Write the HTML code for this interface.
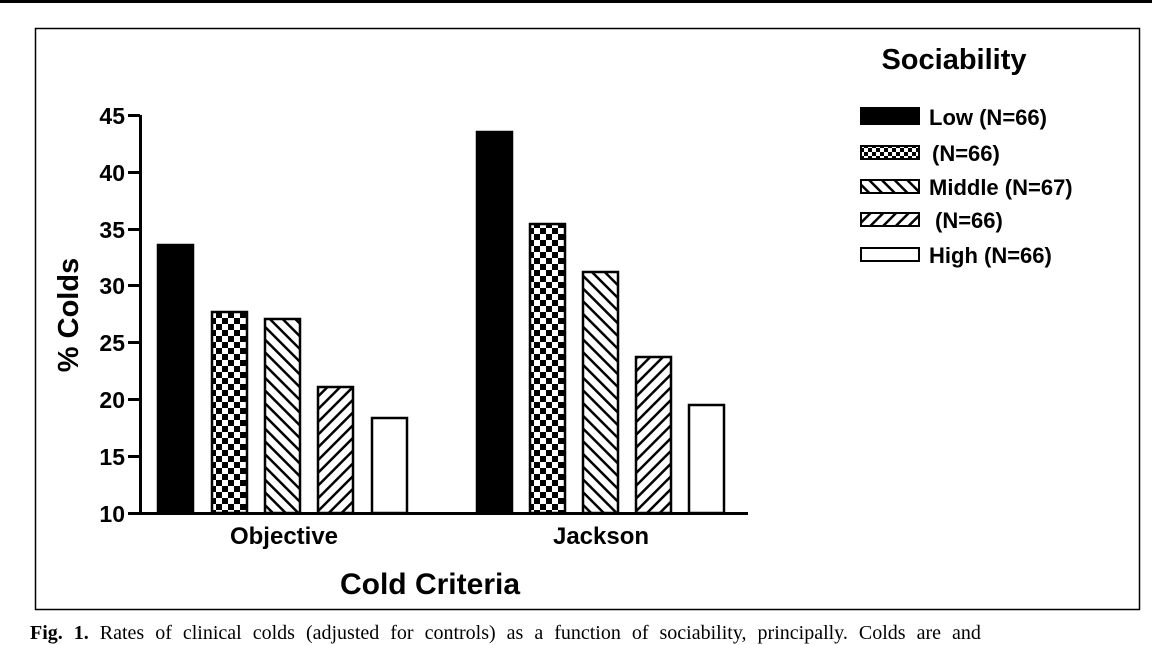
<!DOCTYPE html>
<html><head><meta charset="utf-8"><style>
body{margin:0;width:1152px;height:644px;background:#fff;overflow:hidden;position:relative}
svg{position:absolute;left:0;top:0}
.cap{position:absolute;left:30px;top:622px;font-family:"Liberation Serif",serif;font-size:20px;white-space:nowrap;color:#000;word-spacing:6px}
</style></head><body>
<svg width="1152" height="644" xmlns="http://www.w3.org/2000/svg" font-family="Liberation Sans, Arial, sans-serif" font-weight="bold">
<defs>
<pattern id="chk" width="12" height="12" patternUnits="userSpaceOnUse">
<rect width="12" height="12" fill="#fff"/><rect width="6" height="6" fill="#000"/><rect x="6" y="6" width="6" height="6" fill="#000"/>
</pattern>
<pattern id="bs" width="9" height="9" patternUnits="userSpaceOnUse" patternTransform="rotate(-45)">
<rect width="9" height="9" fill="#fff"/><rect width="2.5" height="9" fill="#000"/>
</pattern>
<pattern id="fs" width="9" height="9" patternUnits="userSpaceOnUse" patternTransform="rotate(45)">
<rect width="9" height="9" fill="#fff"/><rect width="2.5" height="9" fill="#000"/>
</pattern>
<pattern id="chks" width="8" height="8" patternUnits="userSpaceOnUse">
<rect width="8" height="8" fill="#fff"/><rect width="4" height="4" fill="#000"/><rect x="4" y="4" width="4" height="4" fill="#000"/>
</pattern>
</defs>
<rect x="0" y="0" width="1152" height="3" fill="#000"/>
<rect x="35.5" y="28.5" width="1104" height="581" fill="none" stroke="#000" stroke-width="1.5"/>
<rect x="139" y="115" width="3" height="400" fill="#000"/>
<rect x="139" y="512" width="609" height="3" fill="#000"/>
<g fill="#000">
<rect x="128" y="114" width="12" height="3"/><rect x="128" y="171" width="12" height="3"/><rect x="128" y="228" width="12" height="3"/><rect x="128" y="284" width="12" height="3"/><rect x="128" y="341" width="12" height="3"/><rect x="128" y="398" width="12" height="3"/><rect x="128" y="455" width="12" height="3"/><rect x="128" y="512" width="12" height="3"/>
</g>
<g font-size="23" text-anchor="end">
<text x="125" y="124">45</text><text x="125" y="181">40</text><text x="125" y="238">35</text><text x="125" y="294">30</text><text x="125" y="351">25</text><text x="125" y="408">20</text><text x="125" y="465">15</text><text x="125" y="522">10</text>
</g>
<text transform="translate(78,315) rotate(-90)" font-size="29" text-anchor="middle">% Colds</text>
<text x="284" y="544" font-size="24" text-anchor="middle">Objective</text>
<text x="601" y="544" font-size="24" text-anchor="middle">Jackson</text>
<text x="430" y="594" font-size="30" text-anchor="middle">Cold Criteria</text>
<g stroke="#000" stroke-width="2.5">
<rect x="158" y="245" width="35" height="268" fill="#000"/>
<rect x="212" y="312" width="35" height="201" fill="url(#chk)"/>
<rect x="265" y="319" width="35" height="194" fill="url(#bs)"/>
<rect x="318" y="387" width="35" height="126" fill="url(#fs)"/>
<rect x="372" y="418" width="35" height="95" fill="#fff"/>
<rect x="477" y="132" width="35" height="381" fill="#000"/>
<rect x="530" y="224" width="35" height="289" fill="url(#chk)"/>
<rect x="583" y="272" width="35" height="241" fill="url(#bs)"/>
<rect x="636" y="357" width="35" height="156" fill="url(#fs)"/>
<rect x="689" y="405" width="35" height="108" fill="#fff"/>
</g>
<text x="954" y="69" font-size="29" text-anchor="middle">Sociability</text>
<g stroke="#000" stroke-width="2">
<rect x="861" y="108" width="58" height="16" fill="#000"/>
<rect x="861" y="146" width="58" height="13" fill="url(#chks)"/>
<rect x="861" y="180" width="58" height="13" fill="url(#bs)"/>
<rect x="861" y="213" width="58" height="13" fill="url(#fs)"/>
<rect x="861" y="248" width="58" height="13" fill="#fff"/>
</g>
<g font-size="22">
<text x="929" y="125">Low (N=66)</text>
<text x="932" y="161">(N=66)</text>
<text x="929" y="195">Middle (N=67)</text>
<text x="935" y="228">(N=66)</text>
<text x="929" y="263">High (N=66)</text>
</g>
</svg>
<div class="cap"><b>Fig. 1.</b> Rates of clinical colds (adjusted for controls) as a function of sociability, principally. Colds are and</div>
</body></html>
